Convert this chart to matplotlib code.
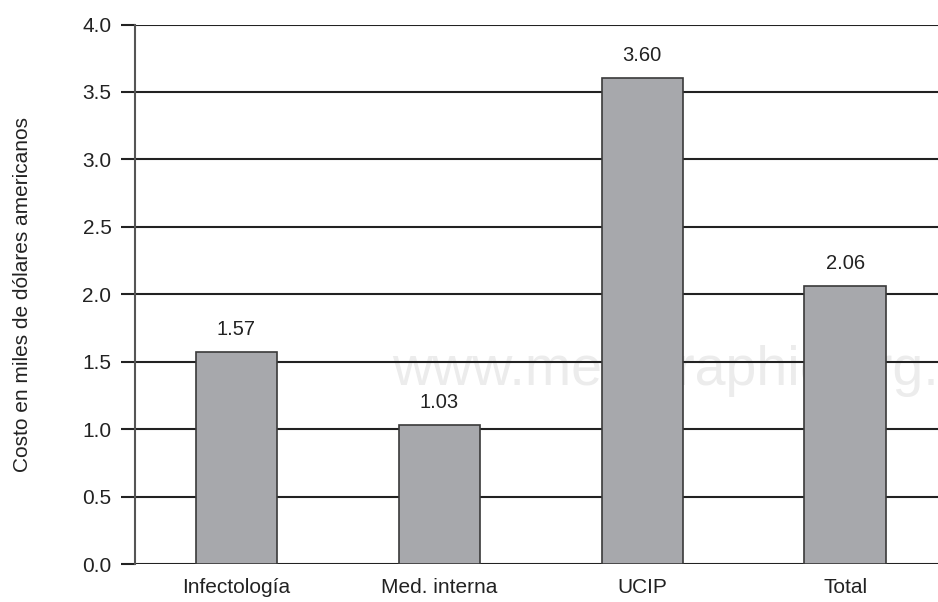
import matplotlib
matplotlib.use("Agg")
import matplotlib.pyplot as plt

categories = ["Infectología", "Med. interna", "UCIP", "Total"]
costs = [1.57, 1.03, 3.60, 2.06]
value_labels = ["1.57", "1.03", "3.60", "2.06"]
y_ticks = [0.0, 0.5, 1.0, 1.5, 2.0, 2.5, 3.0, 3.5, 4.0]

plt.rcParams["font.family"] = ["Liberation Sans Narrow", "Liberation Sans", "DejaVu Sans"]

fig = plt.figure(figsize=(9.38, 6.02), dpi=100)
# axes run a little past the right edge, as in the original crop
ax = fig.add_axes([135 / 938, 38 / 602, 811.5 / 938, 539.5 / 602])

x = range(len(categories))
ax.bar(x, costs, width=0.4, color="#a7a8ac", edgecolor="#3a3a3a", linewidth=1.2, zorder=3)

for xi, v, lab in zip(x, costs, value_labels):
    ax.text(xi, v + 0.1, lab, ha="center", va="bottom", fontsize=14.5, color="#222222", zorder=4)

ax.set_xlim(-0.5, 3.5)
ax.set_ylim(0, 4.0)
ax.set_yticks(y_ticks)
ax.set_yticklabels([f"{t:.1f}" for t in y_ticks], fontsize=15, color="#222222")
ax.set_xticks(list(x))
ax.set_xticklabels(categories, fontsize=15, color="#222222")

ax.tick_params(axis="y", length=10, width=1.5, color="#222222", pad=7)
ax.tick_params(axis="x", length=0, pad=10)

for t in y_ticks:
    ax.axhline(t, color="#222222", linewidth=1.5, zorder=2)

for side in ("top", "right", "bottom"):
    ax.spines[side].set_visible(False)
ax.spines["left"].set_color("#555555")
ax.spines["left"].set_linewidth(1.5)

ax.set_ylabel("Costo en miles de dólares americanos", fontsize=15, color="#222222", labelpad=36)

# faint watermark from the source image
fig.text(392 / 938, 1 - 385 / 602, "www.medigraphic.org.mx", fontsize=40,
         color="#ececec", ha="left", va="baseline", zorder=0)
ax.set_zorder(1)
ax.patch.set_alpha(0)

fig.savefig("out.png", dpi=100)
